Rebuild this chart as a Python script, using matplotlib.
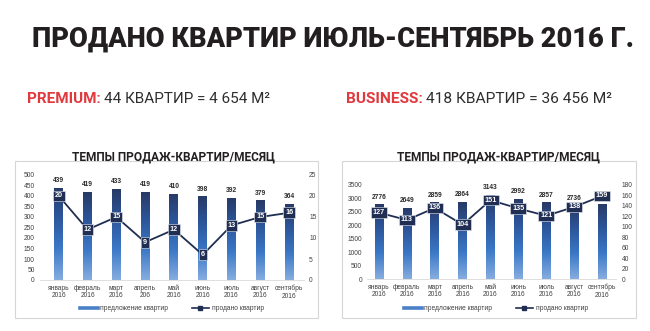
import matplotlib
matplotlib.use("Agg")
import matplotlib.pyplot as plt
import numpy as np
from matplotlib.colors import LinearSegmentedColormap
from matplotlib.lines import Line2D
from matplotlib.patches import Rectangle

# ---- data ----
months = ["январь\n2016", "февраль\n2016", "март\n2016", "апрель\n206", "май\n2016",
          "июнь\n2016", "июль\n2016", "август\n2016", "сентябрь\n2016"]
months_b = ["январь\n2016", "февраль\n2016", "март\n2016", "апрель\n2016", "май\n2016",
            "июнь\n2016", "июль\n2016", "август\n2016", "сентябрь\n2016"]

premium_offer = [439, 419, 433, 419, 410, 398, 392, 379, 364]
premium_sold = [20, 12, 15, 9, 12, 6, 13, 15, 16]

business_offer = [2776, 2649, 2859, 2864, 3143, 2992, 2857, 2736, 2788]
business_sold = [127, 113, 136, 104, 151, 135, 121, 138, 159]

title = "ПРОДАНО КВАРТИР ИЮЛЬ-СЕНТЯБРЬ 2016 Г."
chart_title = "ТЕМПЫ ПРОДАЖ-КВАРТИР/МЕСЯЦ"
legend_labels = ["предложение квартир", "продано квартир"]

# ---- style ----
W, H = 650, 331
NAVY = "#1f2e52"
RED = "#e0393e"
DARK = "#231f20"
TXT = "#404040"
HEAD = ["Roboto", "DejaVu Sans"]
SANS = ["Liberation Sans", "DejaVu Sans"]
bar_cmap = LinearSegmentedColormap.from_list(
    "bar", [(0.0, "#86ade0"), (0.35, "#3a77c6"), (0.7, "#2c5498"), (1.0, "#283a66")])

fig = plt.figure(figsize=(W / 100, H / 100), dpi=100)
fig.patch.set_facecolor("white")


def px_rect(x0, y0, x1, y1):
    """Figure-fraction rect from a pixel box (top-left origin)."""
    return [x0 / W, 1 - y1 / H, (x1 - x0) / W, (y1 - y0) / H]


def fx(x):
    return x / W


def fy(y):
    return 1 - y / H


def fit_width(texts, target_px):
    """Scale the font size of a run of texts so that together they span target_px."""
    fig.canvas.draw()
    r = fig.canvas.get_renderer()
    x0 = min(t.get_window_extent(r).x0 for t in texts)
    x1 = max(t.get_window_extent(r).x1 for t in texts)
    k = target_px / (x1 - x0)
    for t in texts:
        t.set_fontsize(t.get_fontsize() * k)


# headline
head = fig.text(fx(333), fy(39), title, ha="center", va="center", fontsize=20,
                fontweight="black", color=DARK, family=HEAD)
fit_width([head], 600)


# subtitles: red tag followed by the figure in dark grey
def subtitle(x, tag, rest, width):
    t1 = fig.text(fx(x), fy(99), tag, ha="left", va="center", fontsize=9,
                  fontweight="bold", color=RED, family=HEAD)
    t2 = fig.text(fx(x), fy(99), rest, ha="left", va="center", fontsize=9,
                  color="#2e2e2e", family=HEAD)
    for _ in range(2):
        fig.canvas.draw()
        bb = t1.get_window_extent()
        t2.set_x((bb.x1 + 3) / W)
        fit_width([t1, t2], width)
    fig.canvas.draw()
    t2.set_x((t1.get_window_extent().x1 + 3) / W)


subtitle(27, "PREMIUM:", "44 КВАРТИР = 4 654 М²", 243)
subtitle(346, "BUSINESS:", "418 КВАРТИР = 36 456 М²", 266)


def panel(box, axrect, xlim, offer, sold, labels, ymax, ystep, y2max, y2step,
          title_x, legend_x):
    # frame around the panel
    bx0, by0, bx1, by1 = box
    fig.patches.append(Rectangle((fx(bx0), fy(by1)), (bx1 - bx0) / W, (by1 - by0) / H,
                                 transform=fig.transFigure, fill=False,
                                 edgecolor="#d6d6d6", lw=0.8, zorder=0))
    ct = fig.text(fx(title_x), fy(157), chart_title, ha="center", va="center", fontsize=7.8,
                  fontweight="bold", color=DARK, family=HEAD)
    fit_width([ct], 205)

    ax = fig.add_axes(px_rect(*axrect))
    ax.set_facecolor("none")
    x = np.arange(len(offer))
    bars = ax.bar(x, offer, width=0.31, color="none", zorder=2)
    grad = np.linspace(0, 1, 256).reshape(-1, 1)
    for rect in bars:
        x0, w, h = rect.get_x(), rect.get_width(), rect.get_height()
        im = ax.imshow(grad, extent=[x0, x0 + w, 0, h], origin="lower", aspect="auto",
                       cmap=bar_cmap, zorder=2)
        im.set_clip_path(rect)
    for xi, v in zip(x, offer):
        ax.annotate(str(v), (xi, v), xytext=(0, 2.6), textcoords="offset points",
                    ha="center", va="bottom", fontsize=4.8, color="#2a2a2a",
                    fontweight="bold", family=SANS, zorder=3)
    ax.set_xlim(*xlim)
    ax.set_ylim(0, ymax)
    ax.set_yticks(np.arange(0, ymax + 1, ystep))
    ax.set_xticks(x)
    ax.set_xticklabels(labels, fontsize=4.8, color=TXT, family=SANS, linespacing=1.1)
    ax.tick_params(axis="both", length=0, pad=3.5, labelsize=4.8, labelcolor=TXT)
    for lab in ax.get_yticklabels():
        lab.set_family(SANS)
    for s in ["left", "right", "top"]:
        ax.spines[s].set_visible(False)
    ax.spines["bottom"].set_color("#d9d9d9")
    ax.spines["bottom"].set_linewidth(0.6)

    ax2 = ax.twinx()
    ax2.set_ylim(0, y2max)
    ax2.set_yticks(np.arange(0, y2max + 1, y2step))
    ax2.tick_params(axis="y", length=0, pad=4, labelsize=4.8, labelcolor=TXT)
    for lab in ax2.get_yticklabels():
        lab.set_family(SANS)
    for s in ax2.spines.values():
        s.set_visible(False)
    ax2.plot(x, sold, color=NAVY, lw=1.3, zorder=4)
    for xi, v in zip(x, sold):
        ax2.text(xi, v, str(v), ha="center", va="center", fontsize=5.2,
                 fontweight="bold", color="white", family=SANS, zorder=5,
                 bbox=dict(boxstyle="square,pad=0.25", facecolor=NAVY,
                           edgecolor="#e8ecf3", lw=0.4))

    handles = [Line2D([], [], color="#4a80c8", lw=2.6),
               Line2D([], [], color=NAVY, lw=1.2, marker="s", markersize=3)]
    fig.legend(handles, legend_labels, loc="center", bbox_to_anchor=(fx(legend_x), fy(309)),
               ncol=2, frameon=False, handlelength=2.6, columnspacing=3.5,
               handletextpad=0.4, labelcolor=TXT, prop={"family": SANS, "size": 4.8})
    return ax


panel((15, 161, 318, 318), (39.5, 175, 303.5, 280), (-0.67, 8.5),
      premium_offer, premium_sold, months, 500, 50, 25, 5, 173, 172)
panel((342, 161, 636, 318), (367, 185, 616, 279), (-0.43, 8.5),
      business_offer, business_sold, months_b, 3500, 500, 180, 20, 498, 496)

fig.savefig("out.png", dpi=100, facecolor="white")
